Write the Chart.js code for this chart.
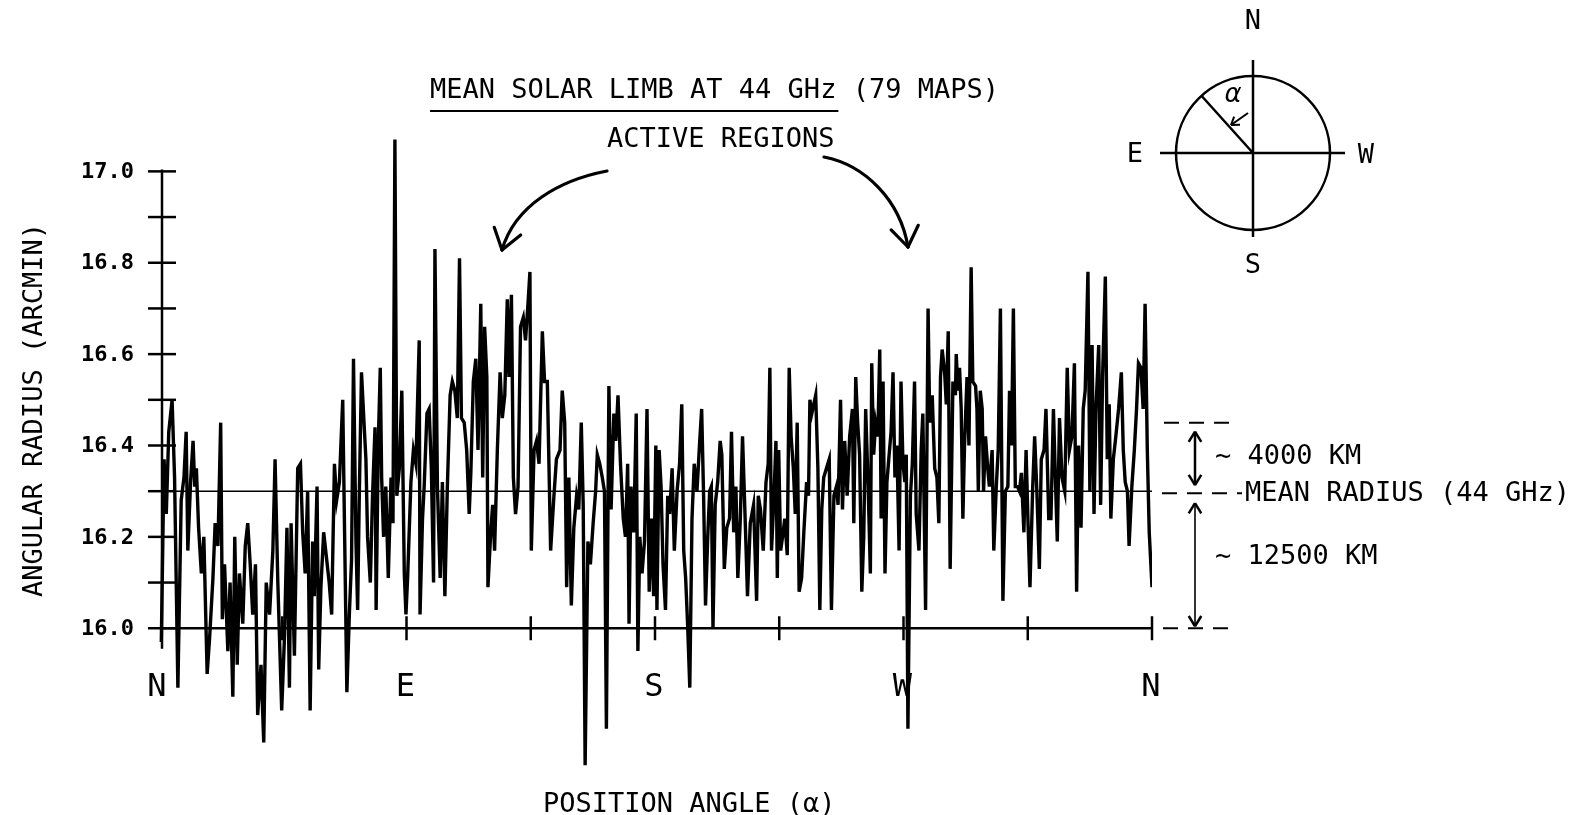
<!DOCTYPE html>
<html>
<head>
<meta charset="utf-8">
<title>Mean solar limb at 44 GHz</title>
<script src="https://cdn.jsdelivr.net/npm/chart.js@4.4.1/dist/chart.umd.min.js"></script>
<style>
  html, body { margin: 0; padding: 0; background: #fff; }
  #wrap { width: 1577px; height: 815px; position: relative; }
</style>
</head>
<body>
<div id="wrap"><canvas id="limb"></canvas></div>
<script>
// Position angle (degrees from N through E, S, W) and angular radius (arcmin),
// read off the scanned trace one quadrant piece at a time.
const anglesNE1 = [1.2, 2.2, 3.0, 3.9, 5.1, 6.0, 7.2, 8.4, 9.4, 10.2,
  10.8, 11.8, 12.7, 13.3, 13.9, 14.7, 15.7, 16.6, 17.8, 18.7,
  19.9, 20.7, 21.7, 22.7, 23.3, 24.1, 25.3, 26.1, 27.1, 27.8,
  28.7, 29.5, 30.7, 31.6, 32.5, 33.4, 34.3, 35.3, 36.1, 37.3,
  38.3, 39.2, 40.4, 41.6, 42.4, 43.4, 44.8, 45.8, 46.7, 47.6,
  48.2, 49.4, 50.6, 51.6, 52.4, 53.3, 54.2, 55.1, 56.0, 56.6,
  57.6, 58.2, 59.0, 60.0, 61.1, 62.0, 62.9, 63.9, 64.7, 65.7,
  66.9, 67.6, 68.4, 69.3, 70.1, 70.8, 71.7];
const radiusNE1 = [15.97, 16.37, 16.25, 16.43, 16.50, 16.33, 15.87, 16.28, 16.33, 16.43,
  16.17, 16.32, 16.41, 16.31, 16.35, 16.22, 16.12, 16.20, 15.90, 15.98,
  16.11, 16.23, 16.18, 16.45, 16.02, 16.14, 15.95, 16.10, 15.85, 16.20,
  15.92, 16.12, 16.01, 16.18, 16.23, 16.14, 16.03, 16.14, 15.81, 15.92,
  15.75, 16.10, 16.03, 16.17, 16.37, 16.10, 15.82, 15.98, 16.22, 15.87,
  16.23, 15.94, 16.35, 16.36, 16.21, 16.12, 16.30, 15.82, 16.19, 16.07,
  16.31, 15.91, 16.09, 16.21, 16.15, 16.10, 16.03, 16.36, 16.28, 16.32,
  16.50, 16.20, 15.86, 16.03, 16.15, 16.59, 16.19];

const anglesNE2 = [72.3, 72.9, 73.7, 74.7, 75.3, 75.9, 76.9, 77.7, 78.6, 79.0,
  79.8, 80.5, 81.0, 81.7, 82.5, 83.4, 84.4, 85.1, 85.8, 86.5,
  87.4, 88.3, 89.2, 89.8, 90.4, 91.6, 92.5, 93.4, 94.6, 94.9,
  95.8, 96.4, 97.4, 98.2, 99.0, 99.8, 100.3, 101.2, 102.2, 103.0,
  103.9, 104.8, 105.8, 106.6, 107.5, 108.4, 109.2, 109.9, 110.9, 111.8,
  112.7, 113.3, 114.2, 115.1, 115.9, 116.9, 117.6, 118.3, 119.1, 119.5,
  120.5, 121.2, 121.9, 122.9, 123.9, 124.7, 125.6, 126.5, 127.1, 128.0,
  128.7, 129.5, 130.4, 131.3, 132.3, 133.1, 134.0, 134.7, 135.2, 136.2,
  137.1, 138.0, 139.2, 140.0, 141.0, 142.2, 143.4, 144.3];
const radiusNE2 = [16.04, 16.29, 16.56, 16.44, 16.37, 16.20, 16.10, 16.29, 16.44, 16.04,
  16.41, 16.57, 16.33, 16.20, 16.31, 16.11, 16.33, 16.23, 17.07, 16.29,
  16.35, 16.52, 16.12, 16.03, 16.11, 16.32, 16.39, 16.36, 16.63, 16.03,
  16.24, 16.31, 16.47, 16.48, 16.35, 16.10, 16.83, 16.31, 16.11, 16.32,
  16.07, 16.31, 16.51, 16.54, 16.52, 16.46, 16.81, 16.46, 16.45, 16.39,
  16.25, 16.34, 16.54, 16.59, 16.39, 16.71, 16.33, 16.66, 16.55, 16.09,
  16.21, 16.27, 16.17, 16.39, 16.56, 16.46, 16.51, 16.72, 16.55, 16.73,
  16.33, 16.25, 16.31, 16.66, 16.68, 16.63, 16.71, 16.78, 16.17, 16.39,
  16.41, 16.36, 16.65, 16.54, 16.54, 16.17, 16.29, 16.37];

const anglesSW1 = [145.6, 146.4, 147.3, 148.0, 148.8, 149.7, 150.6, 151.6, 152.4, 153.3,
  154.0, 154.7, 155.7, 156.6, 157.6, 158.5, 159.1, 160.0, 160.9, 161.7,
  162.4, 163.3, 164.1, 165.1, 165.8, 166.6, 167.5, 168.5, 169.3, 170.1,
  170.6, 171.3, 172.3, 173.2, 173.8, 174.5, 175.3, 176.2, 177.1, 177.9,
  178.7, 179.5, 180.3, 180.7, 181.5, 182.2, 182.9, 183.8, 184.6, 185.3,
  186.2, 187.0, 188.0, 188.9, 189.7, 190.4, 191.1, 191.8, 192.6, 193.4,
  194.2, 195.2, 196.2, 196.9, 197.6, 198.3, 199.1, 199.8, 200.4, 201.0,
  201.8, 202.7, 203.6, 204.2, 205.1, 206.0, 207.0, 207.7, 208.5, 209.3,
  210.0, 210.9, 211.7, 212.7, 213.5, 214.5, 215.7];
const radiusSW1 = [16.39, 16.52, 16.45, 16.09, 16.33, 16.05, 16.22, 16.29, 16.26, 16.45,
  16.27, 15.70, 16.19, 16.14, 16.23, 16.30, 16.38, 16.36, 16.33, 16.30,
  15.78, 16.53, 16.26, 16.47, 16.41, 16.51, 16.36, 16.24, 16.20, 16.36,
  16.01, 16.31, 16.21, 16.47, 15.95, 16.20, 16.12, 16.19, 16.48, 16.08,
  16.24, 16.07, 16.40, 16.04, 16.39, 16.31, 16.14, 16.04, 16.29, 16.25,
  16.35, 16.17, 16.30, 16.36, 16.49, 16.17, 16.11, 16.01, 15.87, 16.24,
  16.36, 16.30, 16.41, 16.48, 16.29, 16.05, 16.20, 16.30, 16.31, 16.00,
  16.27, 16.32, 16.41, 16.38, 16.13, 16.22, 16.24, 16.43, 16.21, 16.31,
  16.11, 16.24, 16.42, 16.23, 16.07, 16.23, 16.27];

const anglesSW2 = [216.8, 217.4, 218.2, 219.2, 220.2, 221.0, 221.6, 222.2, 223.1, 223.8,
  224.3, 224.8, 225.5, 226.2, 227.0, 227.9, 228.6, 229.3, 230.1, 230.8,
  231.5, 232.2, 233.1, 233.9, 234.9, 235.6, 236.1, 236.8, 237.5, 238.2,
  239.0, 239.7, 240.4, 241.1, 242.1, 243.1, 243.9, 244.8, 245.7, 246.3,
  247.2, 247.9, 248.7, 249.6, 250.5, 251.5, 252.0, 252.7, 253.4, 254.1,
  254.9, 255.6, 256.3, 257.2, 258.0, 258.5, 259.2, 259.9, 260.7, 261.4,
  261.9, 262.6, 263.3, 264.0, 264.8, 265.5, 266.2, 266.9, 267.6, 268.4,
  269.1, 269.8, 270.5, 271.0, 271.6, 272.5, 273.2, 274.0, 274.6, 275.6,
  276.4, 277.0, 278.0, 278.9, 279.5, 280.4, 281.3, 282.1, 282.8, 283.4,
  284.0, 284.9, 285.5, 286.2, 286.9, 287.9, 288.8];
const radiusSW2 = [16.06, 16.29, 16.26, 16.17, 16.32, 16.36, 16.57, 16.17, 16.29, 16.41,
  16.11, 16.39, 16.17, 16.20, 16.24, 16.16, 16.57, 16.42, 16.35, 16.25,
  16.45, 16.08, 16.11, 16.21, 16.32, 16.29, 16.50, 16.47, 16.49, 16.51,
  16.35, 16.04, 16.26, 16.33, 16.35, 16.37, 16.04, 16.29, 16.31, 16.27,
  16.50, 16.26, 16.41, 16.29, 16.42, 16.48, 16.23, 16.55, 16.45, 16.38,
  16.08, 16.20, 16.48, 16.31, 16.12, 16.58, 16.38, 16.45, 16.42, 16.61,
  16.24, 16.54, 16.12, 16.32, 16.38, 16.43, 16.56, 16.33, 16.40, 16.17,
  16.54, 16.36, 16.32, 16.38, 15.78, 16.29, 16.36, 16.54, 16.25, 16.17,
  16.39, 16.47, 16.04, 16.70, 16.45, 16.51, 16.35, 16.33, 16.23, 16.55,
  16.61, 16.56, 16.49, 16.65, 16.13, 16.54, 16.51];

const anglesWN = [289.1, 289.7, 290.3, 290.9, 291.5, 292.1, 293.0, 293.7, 294.5, 295.1,
  296.1, 296.6, 297.1, 297.8, 298.5, 299.0, 299.7, 300.5, 301.1, 302.1,
  302.7, 303.6, 304.3, 305.1, 306.0, 306.9, 307.8, 308.4, 309.1, 309.8,
  310.5, 311.3, 312.0, 312.7, 313.6, 314.4, 315.1, 315.8, 316.8, 317.5,
  318.3, 319.2, 319.9, 320.9, 321.6, 322.6, 323.4, 324.3, 325.0, 325.7,
  326.5, 327.4, 328.4, 329.3, 330.1, 331.0, 331.9, 332.7, 333.4, 334.3,
  335.1, 335.8, 336.8, 337.5, 338.3, 339.0, 339.7, 340.7, 341.4, 342.1,
  343.1, 343.8, 344.5, 345.1, 346.0, 346.9, 347.9, 348.9, 349.6, 350.3,
  351.1, 351.7, 352.7, 353.6, 354.4, 355.1, 356.0, 356.8, 357.5, 358.3,
  359.0, 360.0];
const radiusWN = [16.60, 16.52, 16.57, 16.48, 16.24, 16.40, 16.55, 16.40, 16.79, 16.54,
  16.53, 16.48, 16.30, 16.52, 16.48, 16.30, 16.42, 16.35, 16.31, 16.39,
  16.17, 16.31, 16.39, 16.70, 16.06, 16.30, 16.31, 16.52, 16.40, 16.70,
  16.31, 16.31, 16.30, 16.34, 16.21, 16.39, 16.23, 16.09, 16.31, 16.42,
  16.30, 16.13, 16.37, 16.39, 16.48, 16.24, 16.24, 16.48, 16.33, 16.19,
  16.46, 16.33, 16.30, 16.57, 16.39, 16.42, 16.58, 16.08, 16.40, 16.22,
  16.48, 16.52, 16.78, 16.30, 16.62, 16.25, 16.48, 16.62, 16.27, 16.55,
  16.77, 16.37, 16.49, 16.24, 16.37, 16.42, 16.48, 16.56, 16.39, 16.32,
  16.30, 16.18, 16.31, 16.39, 16.48, 16.58, 16.57, 16.48, 16.71, 16.39,
  16.21, 16.09];

// Axis ticks and reference levels
const radiusTicks = [16.0, 16.2, 16.4, 16.6, 16.8, 17.0];
const radiusMinorTicks = [16.1, 16.3, 16.5, 16.7, 16.9];
const angleTicks = [45, 90, 135, 180, 225, 270, 315, 360];
const compassAngles = [0, 90, 180, 270, 360];
const compassLabels = ['N', 'E', 'S', 'W', 'N'];
const meanRadius = 16.30;     // mean radius at 44 GHz
const upperLevel = 16.45;     // ~4000 km above the mean
const baseLevel = 16.0;       // ~12500 km below the mean

const pieces = [
  [anglesNE1, radiusNE1], [anglesNE2, radiusNE2], [anglesSW1, radiusSW1],
  [anglesSW2, radiusSW2], [anglesWN, radiusWN]
];
const points = [];
pieces.forEach(([a, r]) => {
  const n = Math.min(a.length, r.length);
  for (let i = 0; i < n; i++) points.push({ x: a[i], y: r[i] });
});

const MONO = '"DejaVu Sans Mono", "Liberation Mono", monospace';

function seg(ctx, x1, y1, x2, y2) {
  ctx.beginPath(); ctx.moveTo(x1, y1); ctx.lineTo(x2, y2); ctx.stroke();
}
function head(ctx, tx, ty, fx, fy, len, spread) {
  // open V arrow head at (tx,ty), coming from the direction of (fx,fy)
  const back = Math.atan2(fy - ty, fx - tx);
  [back + spread, back - spread].forEach(t => seg(ctx, tx, ty, tx + len * Math.cos(t), ty + len * Math.sin(t)));
}

const limbPlot = {
  id: 'limbPlot',
  beforeDatasetsDraw(chart) {
    const { ctx, scales: { x, y } } = chart;
    const ax = x.getPixelForValue(0) + 4;
    const xEnd = x.getPixelForValue(360);
    const y0 = y.getPixelForValue(baseLevel);
    ctx.save();
    ctx.strokeStyle = '#000';
    ctx.lineCap = 'butt';

    // y axis with crossing ticks
    ctx.lineWidth = 2.5;
    seg(ctx, ax, y.getPixelForValue(17.0) - 2, ax, y.getPixelForValue(15.955));
    radiusTicks.concat(radiusMinorTicks).forEach(v => {
      const py = y.getPixelForValue(v);
      seg(ctx, ax - 14, py, ax + 14, py);
    });

    // x axis at 16.0 with crossing ticks
    seg(ctx, ax, y0, xEnd, y0);
    angleTicks.forEach(a => {
      const px = x.getPixelForValue(a);
      seg(ctx, px, y0 - 12, px, y0 + 12);
    });

    // mean radius line
    ctx.lineWidth = 1.5;
    const ym = y.getPixelForValue(meanRadius);
    seg(ctx, ax, ym, xEnd, ym);
    ctx.restore();
  },
  afterDraw(chart) {
    const { ctx, scales: { x, y } } = chart;
    const xEnd = x.getPixelForValue(360);
    const y0 = y.getPixelForValue(baseLevel);
    const ym = y.getPixelForValue(meanRadius);
    const yu = y.getPixelForValue(upperLevel);
    ctx.save();
    ctx.fillStyle = '#000';
    ctx.strokeStyle = '#000';

    // y tick labels
    ctx.font = 'bold 22px ' + MONO;
    ctx.textAlign = 'right';
    ctx.textBaseline = 'middle';
    radiusTicks.forEach(v => ctx.fillText(v.toFixed(1), 134, y.getPixelForValue(v) + 1));

    // compass letters under the axis
    ctx.font = '32px ' + MONO;
    ctx.textAlign = 'center';
    compassAngles.forEach((a, i) => ctx.fillText(compassLabels[i], x.getPixelForValue(a) - 1, y0 + 59));

    // axis titles
    ctx.font = '27px ' + MONO;
    ctx.textAlign = 'left';
    ctx.textBaseline = 'alphabetic';
    ctx.fillText('POSITION ANGLE (\u03b1)', 543, 812);
    ctx.save();
    ctx.translate(42, 410);
    ctx.rotate(-Math.PI / 2);
    ctx.textAlign = 'center';
    ctx.fillText('ANGULAR RADIUS (ARCMIN)', 0, 0);
    ctx.restore();

    // title
    const t1 = 'MEAN SOLAR LIMB AT 44 GHz';
    ctx.fillText(t1 + ' (79 MAPS)', 430, 98);
    ctx.lineWidth = 2;
    seg(ctx, 430, 111, 430 + ctx.measureText(t1).width + 2, 111);
    ctx.fillText('ACTIVE REGIONS', 607, 147);

    // curved pointers to the active regions
    ctx.lineWidth = 3.2;
    ctx.lineCap = 'round';
    ctx.beginPath();
    ctx.moveTo(607, 171);
    ctx.bezierCurveTo(560, 180, 515, 205, 502, 250);
    ctx.stroke();
    head(ctx, 502, 250, 515, 205, 24, 0.61);
    ctx.beginPath();
    ctx.moveTo(824, 157);
    ctx.bezierCurveTo(865, 165, 900, 200, 908, 247);
    ctx.stroke();
    head(ctx, 908, 247, 900, 200, 24, 0.61);

    // dashed reference levels at the right edge
    ctx.lineCap = 'butt';
    ctx.lineWidth = 2;
    ctx.setLineDash([15, 10]);
    seg(ctx, xEnd + 12, yu, xEnd + 82, yu);
    seg(ctx, xEnd + 10, ym + 2, xEnd + 90, ym + 2);
    seg(ctx, xEnd + 11, y0, xEnd + 80, y0);
    ctx.setLineDash([]);

    // double arrows
    const axr = xEnd + 43;
    ctx.lineWidth = 2.5;
    seg(ctx, axr, yu + 9, axr, ym - 6);
    head(ctx, axr, yu + 9, axr, ym, 12, 0.55);
    head(ctx, axr, ym - 6, axr, yu, 12, 0.55);
    ctx.lineWidth = 1.6;
    seg(ctx, axr, ym + 12, axr, y0 - 2);
    ctx.lineWidth = 2.5;
    head(ctx, axr, ym + 12, axr, y0, 12, 0.55);
    head(ctx, axr, y0 - 2, axr, ym, 12, 0.55);

    ctx.font = '27px ' + MONO;
    ctx.textAlign = 'left';
    ctx.textBaseline = 'middle';
    ctx.fillText('~ 4000 KM', xEnd + 63, (yu + ym) / 2);
    ctx.fillText('MEAN RADIUS (44 GHz)', xEnd + 93, ym + 3);
    ctx.fillText('~ 12500 KM', xEnd + 63, (ym + y0) / 2 - 3);

    // orientation diagram
    const cx = 1253, cy = 153, r = 77;
    ctx.lineWidth = 2.5;
    ctx.beginPath(); ctx.arc(cx, cy, r, 0, Math.PI * 2); ctx.stroke();
    seg(ctx, cx - 93, cy, cx + 92, cy);
    seg(ctx, cx, cy - 93, cx, cy + 84);
    const tilt = 42 * Math.PI / 180;
    seg(ctx, cx, cy, cx - r * Math.sin(tilt), cy - r * Math.cos(tilt));
    ctx.lineWidth = 2;
    seg(ctx, cx - 5, cy - 40, cx - 22, cy - 28);
    head(ctx, cx - 22, cy - 28, cx - 5, cy - 40, 9, 0.6);
    ctx.font = 'italic 26px "DejaVu Sans", sans-serif';
    ctx.textAlign = 'center';
    ctx.fillText('\u03b1', cx - 20, cy - 58);
    ctx.font = '27px ' + MONO;
    ctx.fillText('N', cx, 22);
    ctx.fillText('S', cx, 266);
    ctx.fillText('E', 1135, cy + 2);
    ctx.fillText('W', 1366, cy + 3);
    ctx.restore();
  }
};

document.addEventListener('DOMContentLoaded', () => {
  const ctx = document.getElementById('limb').getContext('2d');

  new Chart(ctx, {
    type: 'line',
    data: {
      datasets: [{
        label: 'Mean solar limb at 44 GHz',
        data: points,
        borderColor: '#000',
        borderWidth: 3.4,
        borderJoinStyle: 'miter',
        pointRadius: 0,
        tension: 0,
        fill: false
      }]
    },
    options: {
      responsive: true,
      maintainAspectRatio: false,
      animation: false,
      layout: { padding: { left: 158, right: 425, top: 80, bottom: 4 } },
      scales: {
        x: { type: 'linear', min: 0, max: 360, display: false },
        y: { type: 'linear', min: 15.6, max: 17.2, display: false }
      },
      plugins: {
        legend: { display: false },
        tooltip: { enabled: false }
      }
    },
    plugins: [limbPlot]
  });
});
</script>
</body>
</html>
